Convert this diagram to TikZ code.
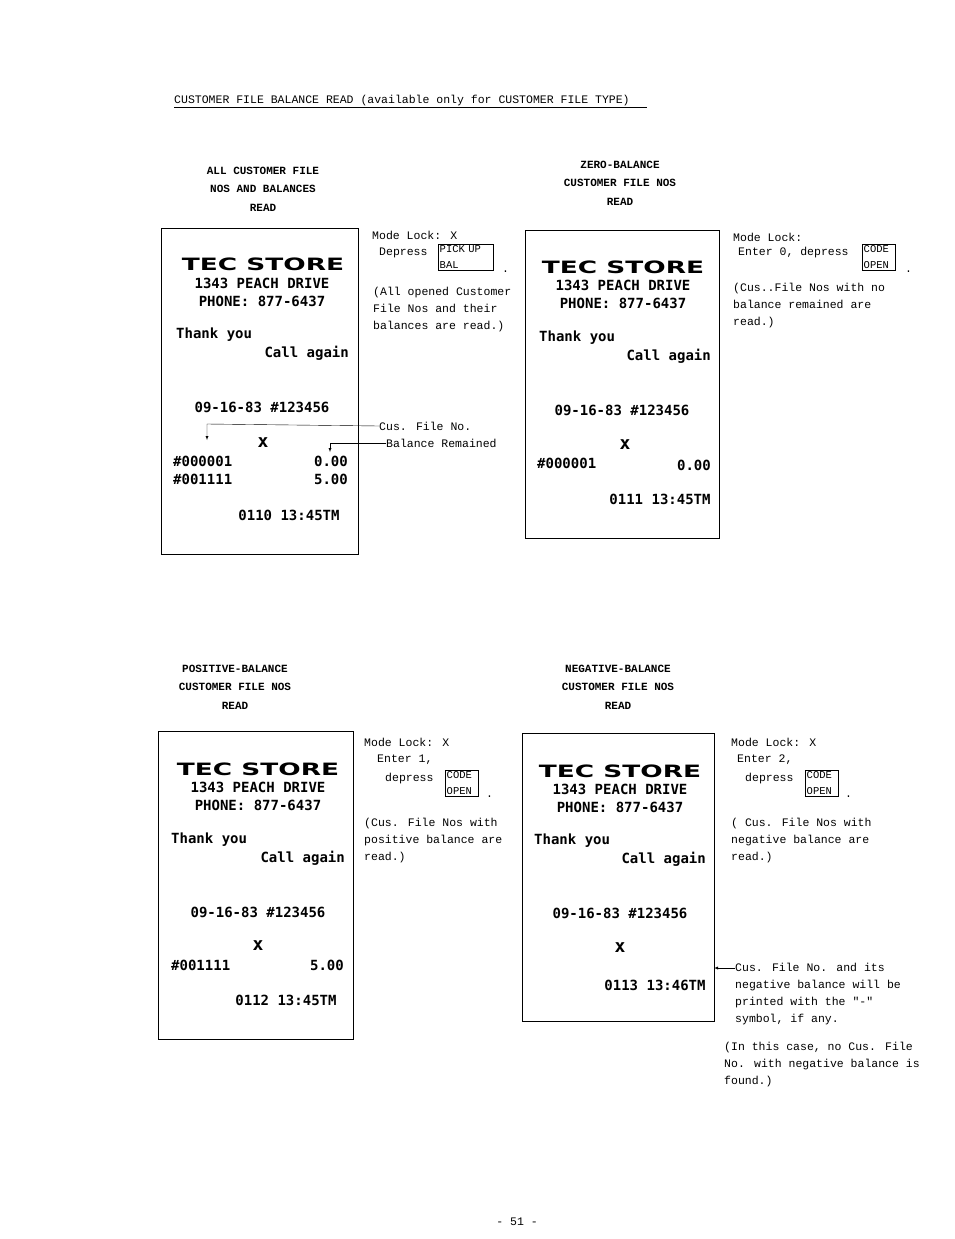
\documentclass[tikz,border=0pt]{standalone}
\usepackage{fontspec}
\newfontfamily\receiptfont{DejaVu Sans Mono}
\newfontfamily\storefont{DejaVu Sans}
\newfontfamily\notefont{Liberation Mono}
\usetikzlibrary{positioning, arrows}
\tikzstyle{note}=[anchor=west, inner sep=0pt, font=\notefont\fontsize{11.5}{13}\selectfont]
\tikzstyle{head}=[inner sep=0pt, align=center, font=\notefont\bfseries\fontsize{11}{18.5}\selectfont]
\tikzstyle{rline}=[inner sep=0pt, font=\receiptfont\bfseries\fontsize{14}{16}\selectfont]
\tikzstyle{store}=[inner sep=0pt, font=\storefont\bfseries\fontsize{17}{18}\selectfont]
\tikzstyle{slip}=[draw, line width=0.9pt]
\tikzstyle{keybox}=[draw, anchor=north west, inner sep=1.5pt, align=left, text width=30pt, font=\notefont\fontsize{10.5}{16}\selectfont]

\begin{document}
\begin{tikzpicture}[x=1pt, y=-1pt]
\useasboundingbox (0,0) rectangle (954,1239);

% Title
\node[note, anchor=base west] (title) at (174,103) {CUSTOMER FILE BALANCE READ (available only for CUSTOMER FILE TYPE)};
\draw (174,107) -- (647,107);

% Receipt 1: all customer file nos and balances
\node[head] (h1) at (263,189) {ALL CUSTOMER FILE\\NOS AND BALANCES\\READ};
\draw[slip] (161,228) rectangle (358,554);
\node[store] (s1) at (263,264) {\scalebox{1.55}[1]{TEC STORE}};
\node[rline] (a1) at (262,283) {1343 PEACH DRIVE};
\node[rline] (p1) at (262,301) {PHONE: 877-6437};
\node[rline, anchor=west] (t1) at (176,335) {Thank you};
\node[rline, anchor=east] (c1) at (349,353) {Call again};
\node[rline] (d1) at (262,407) {09-16-83 \#123456};
\node[rline, font=\receiptfont\bfseries\fontsize{18}{18}\selectfont] (x1) at (263,443) {x};
\node[rline, anchor=west] (n1a) at (173,461) {\#000001};
\node[rline, anchor=east] (v1a) at (348,461) {0.00};
\node[rline, anchor=west] (n1b) at (173,479) {\#001111};
\node[rline, anchor=east] (v1b) at (348,479) {5.00};
\node[rline] (z1) at (289,515) {0110 13:45TM};
\node[note] (m1) at (372,235) {Mode Lock: X};
\node[note] (e1) at (379,253) {Depress};
\node[keybox, text width=52pt] (k1) at (438,244) {PICK UP\\BAL};
\node[note] at (502,272) {.};
\node[note, align=left] (r1) at (373,310) {(All opened Customer\\[4pt] File  Nos and their\\[4pt] balances are read.)};
\node[note] (cf1) at (379,426) {Cus. File  No.};
\node[note] (br1) at (386,443) {Balance Remained};
\coordinate (cfa) at (207,424);
\coordinate (bra) at (330,443);
\draw[-latex] (cf1.west) -- (cfa) -- ++(0,16);
\draw[-latex] (br1.west) -- (bra) -- ++(0,9);

% Receipt 2: zero-balance
\node[head] (h2) at (620,183) {ZERO-BALANCE\\CUSTOMER FILE NOS\\READ};
\draw[slip] (525,230) rectangle (719,538);
\node[store] (s2) at (623,267) {\scalebox{1.55}[1]{TEC STORE}};
\node[rline] (a2) at (623,285) {1343 PEACH DRIVE};
\node[rline] (p2) at (623,303) {PHONE: 877-6437};
\node[rline, anchor=west] (t2) at (539,338) {Thank you};
\node[rline, anchor=east] (c2) at (711,356) {Call again};
\node[rline] (d2) at (622,410) {09-16-83 \#123456};
\node[rline, font=\receiptfont\bfseries\fontsize{18}{18}\selectfont] (x2) at (625,445) {x};
\node[rline, anchor=west] (n2a) at (537,463) {\#000001};
\node[rline, anchor=east] (v2a) at (711,465) {0.00};
\node[rline] (z2) at (660,499) {0111 13:45TM};
\node[note] (m2) at (733,237) {Mode Lock:};
\node[note] (e2) at (738,253) {Enter 0, depress};
\node[keybox] (k2) at (862,244) {CODE\\OPEN};
\node[note] at (905,272) {.};
\node[note, align=left] (r2) at (733,306) {(Cus..File  Nos with no\\[4pt] balance remained are\\[4pt] read.)};

% Receipt 3: positive-balance
\node[head] (h3) at (235,687) {POSITIVE-BALANCE\\CUSTOMER FILE NOS\\READ};
\draw[slip] (158,731) rectangle (353,1039);
\node[store] (s3) at (258,769) {\scalebox{1.55}[1]{TEC STORE}};
\node[rline] (a3) at (258,787) {1343 PEACH DRIVE};
\node[rline] (p3) at (258,805) {PHONE: 877-6437};
\node[rline, anchor=west] (t3) at (171,840) {Thank you};
\node[rline, anchor=east] (c3) at (345,858) {Call again};
\node[rline] (d3) at (258,912) {09-16-83 \#123456};
\node[rline, font=\receiptfont\bfseries\fontsize{18}{18}\selectfont] (x3) at (258,946) {x};
\node[rline, anchor=west] (n3a) at (171,965) {\#001111};
\node[rline, anchor=east] (v3a) at (344,965) {5.00};
\node[rline] (z3) at (286,1000) {0112 13:45TM};
\node[note] (m3) at (364,742) {Mode Lock: X};
\node[note] (e3) at (377,760) {Enter 1,};
\node[note] (f3) at (385,779) {depress};
\node[keybox] (k3) at (445,770) {CODE\\OPEN};
\node[note] at (486,797) {.};
\node[note, align=left] (r3) at (364,841) {(Cus. File   Nos with\\[4pt] positive balance are\\[4pt] read.)};

% Receipt 4: negative-balance
\node[head] (h4) at (618,687) {NEGATIVE-BALANCE\\CUSTOMER FILE NOS\\READ};
\draw[slip] (522,733) rectangle (714,1021);
\node[store] (s4) at (620,771) {\scalebox{1.55}[1]{TEC STORE}};
\node[rline] (a4) at (620,789) {1343 PEACH DRIVE};
\node[rline] (p4) at (620,807) {PHONE: 877-6437};
\node[rline, anchor=west] (t4) at (534,841) {Thank you};
\node[rline, anchor=east] (c4) at (706,859) {Call again};
\node[rline] (d4) at (620,913) {09-16-83 \#123456};
\node[rline, font=\receiptfont\bfseries\fontsize{18}{18}\selectfont] (x4) at (620,948) {x};
\node[rline] (z4) at (655,985) {0113 13:46TM};
\node[note] (m4) at (731,742) {Mode Lock: X};
\node[note] (e4) at (737,760) {Enter 2,};
\node[note] (f4) at (745,779) {depress};
\node[keybox] (k4) at (805,770) {CODE\\OPEN};
\node[note] at (845,797) {.};
\node[note, align=left] (r4) at (731,841) {( Cus. File  Nos with\\[4pt] negative balance are\\[4pt] read.)};
\node[note, align=left] (cf4) at (735,994) {Cus. File    No. and its\\[4pt] negative balance will be\\[4pt] printed with the "-"\\[4pt] symbol, if any.};
\coordinate (cfb) at (714,968);
\draw[-latex] (cf4.west |- cfb) -- (cfb);
\node[note, align=left] (nc4) at (724,1065) {(In this case, no Cus. File\\[4pt] No. with negative balance is\\[4pt] found.)};

% Page number
\node[note, anchor=center] (pg) at (517,1222) {- 51 -};
\end{tikzpicture}
\end{document}
